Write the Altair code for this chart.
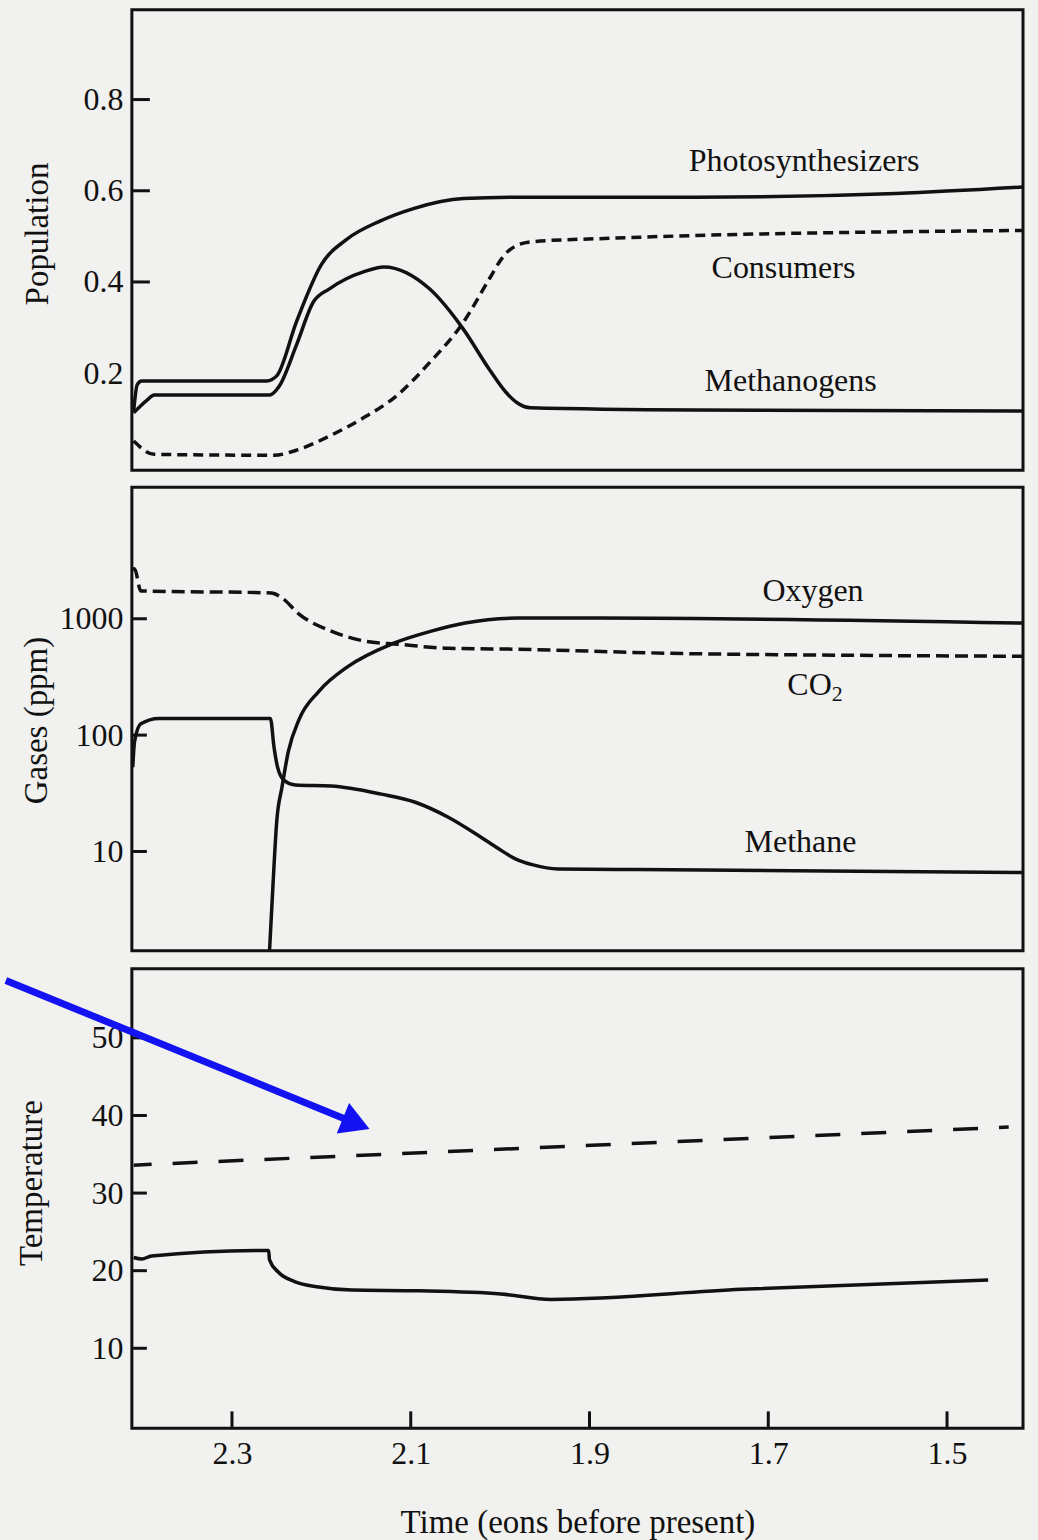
import altair as alt
import pandas as pd

FONT = "Liberation Serif"
INK = "#111111"
BLUE = "#1212f2"
PAPER = "#f1f1ef"

# ---------------- data: population panel ----------------
photo_t = [2.410, 2.406, 2.401, 2.261, 2.250, 2.228, 2.200, 2.172, 2.135, 2.097, 2.041, 1.982, 1.781, 1.557, 1.416]
photo_v = [0.117, 0.175, 0.183, 0.183, 0.194, 0.312, 0.438, 0.493, 0.533, 0.561, 0.583, 0.586, 0.586, 0.594, 0.608]

meth_t = [2.410, 2.395, 2.387, 2.258, 2.247, 2.228, 2.209, 2.191, 2.172, 2.153, 2.130, 2.079, 2.041, 2.012, 1.993, 1.981, 1.966, 1.781, 1.416]
meth_v = [0.113, 0.141, 0.152, 0.152, 0.172, 0.261, 0.356, 0.385, 0.407, 0.422, 0.433, 0.385, 0.296, 0.208, 0.157, 0.135, 0.124, 0.119, 0.117]

cons_t = [2.410, 2.387, 2.253, 2.228, 2.191, 2.153, 2.116, 2.079, 2.041, 2.012, 1.999, 1.989, 1.966, 1.889, 1.416]
cons_v = [0.051, 0.022, 0.020, 0.031, 0.062, 0.102, 0.150, 0.223, 0.312, 0.407, 0.449, 0.471, 0.488, 0.495, 0.513]

pop_labels = ["Photosynthesizers", "Consumers", "Methanogens"]
pop_label_t = [1.660, 1.683, 1.675]
pop_label_v = [0.665, 0.431, 0.183]
pop_tick_labels = [0.2, 0.4, 0.6, 0.8]
pop_tick_marks = [0.4, 0.6, 0.8]

# ---------------- data: gases panel (ppm, log) ----------------
oxy_t = [2.258, 2.254, 2.250, 2.244, 2.237, 2.225, 2.203, 2.170, 2.122, 2.077, 2.039, 1.980, 1.890, 1.414]
oxy_v = [1.40, 5.4, 17.9, 35.9, 72.0, 136, 237, 390, 604, 783, 920, 1014, 1014, 918]

co2_t = [2.412, 2.409, 2.402, 2.256, 2.244, 2.225, 2.189, 2.151, 2.114, 2.058, 1.980, 1.810, 1.618, 1.414]
co2_v = [2650, 2690, 1735, 1667, 1510, 1098, 783, 642, 604, 558, 547, 505, 486, 476]

ch4_t = [2.411, 2.409, 2.402, 2.382, 2.257, 2.253, 2.249, 2.242, 2.229, 2.189, 2.133, 2.095, 2.058, 2.021, 2.002, 1.983, 1.963, 1.935, 1.846, 1.414]
ch4_v = [53, 88, 125, 139, 139, 79, 53, 41, 37.2, 36.5, 31.1, 26.5, 19.7, 13.2, 10.6, 8.65, 7.67, 7.08, 7.00, 6.59]

gas_labels = ["Oxygen", "Methane"]
gas_label_t = [1.650, 1.664]
gas_label_v = [1735, 12.0]
co2_label_t = 1.629          # "CO" ends here, subscript "2" starts here
co2_label_v = 272
gas_ticks = [10, 100, 1000]

# ---------------- data: temperature panel ----------------
temp_t = [2.410, 2.401, 2.390, 2.259, 2.258, 2.248, 2.230, 2.203, 2.166, 2.091, 1.999, 1.943, 1.730, 1.454]
temp_v = [21.7, 21.5, 21.9, 22.6, 21.4, 19.8, 18.6, 17.9, 17.5, 17.4, 17.0, 16.3, 17.6, 18.8]

tdash_t = [2.410, 1.431]
tdash_v = [33.6, 38.5]

temp_ticks = [10, 20, 30, 40, 50]
time_ticks = [2.3, 2.1, 1.9, 1.7, 1.5]

# blue annotation arrow (time, temperature coordinates)
arrow_t, arrow_v, arrow_t2, arrow_v2 = [2.553], [57.4], [2.168], [39.3]
head_t, head_v = [2.161], [38.95]

# ---------------- helpers ----------------
W = 892
H1, H2, H3 = 461, 464, 460


def sdf(t, v):
    return pd.DataFrame({"t": t, "v": v, "i": list(range(len(t)))})


x_scale = alt.Scale(domain=[1.415, 2.412], reverse=True, nice=False, zero=False)
x_none = alt.X("t:Q", scale=x_scale, axis=None)


def y_axis(values, fmt, title, tx, ty):
    return alt.Axis(values=values, format=fmt, ticks=False, domain=False, grid=False,
                    labelFont=FONT, labelFontSize=32, labelColor=INK, labelPadding=9,
                    title=title, titleFont=FONT, titleFontSize=33, titleFontWeight="normal",
                    titleColor=INK, titleAngle=270, titleX=tx, titleY=ty,
                    titleAlign="center", titleBaseline="alphabetic")


def curve(df, x, y, dash=None, offset=None):
    kw = dict(color=INK, strokeWidth=3.5, interpolate="monotone")
    if dash:
        kw["strokeDash"] = dash
    if offset:
        kw["strokeDashOffset"] = offset
    return alt.Chart(df).mark_line(**kw).encode(x=x, y=y, order=alt.Order("i:Q"))


def inner_ticks(vals, y, length):
    return alt.Chart(pd.DataFrame({"v": vals})).mark_rule(color=INK, strokeWidth=3).encode(
        y=y, x=alt.value(0), x2=alt.value(length))


def labels(t, v, txt, x, y, size=32, align="center", dy=0):
    return alt.Chart(pd.DataFrame({"t": t, "v": v, "label": txt})).mark_text(
        font=FONT, fontSize=size, color=INK, align=align, baseline="middle", dy=dy).encode(
        x=x, y=y, text="label:N")


# ---------------- panel 1 ----------------
y1 = alt.Y("v:Q", scale=alt.Scale(domain=[-0.013, 0.997], nice=False, zero=False),
           axis=y_axis(pop_tick_labels, ".1f", "Population", -84, 224))
p1 = alt.layer(
    curve(sdf(photo_t, photo_v), x_none, y1),
    curve(sdf(meth_t, meth_v), x_none, y1),
    curve(sdf(cons_t, cons_v), x_none, y1, dash=[10, 6]),
    inner_ticks(pop_tick_marks, y1, 18),
    labels(pop_label_t, pop_label_v, pop_labels, x_none, y1),
).properties(width=W, height=H1)

# ---------------- panel 2 ----------------
y2 = alt.Y("v:Q", scale=alt.Scale(type="log", domain=[1.40, 13490], nice=False),
           axis=y_axis(gas_ticks, "d", "Gases (ppm)", -85, 233))
p2 = alt.layer(
    curve(sdf(oxy_t, oxy_v), x_none, y2),
    curve(sdf(ch4_t, ch4_v), x_none, y2),
    curve(sdf(co2_t, co2_v), x_none, y2, dash=[13, 6]),
    inner_ticks(gas_ticks, y2, 15),
    labels(gas_label_t, gas_label_v, gas_labels, x_none, y2),
    labels([co2_label_t], [co2_label_v], ["CO"], x_none, y2, align="right"),
    labels([co2_label_t], [co2_label_v], ["2"], x_none, y2, size=22, align="left", dy=9),
).properties(width=W, height=H2)

# ---------------- panel 3 ----------------
x3 = alt.X("t:Q", scale=x_scale,
           axis=alt.Axis(values=time_ticks, format=".1f", ticks=False, domain=False, grid=False,
                         labelFont=FONT, labelFontSize=32, labelColor=INK, labelPadding=10,
                         title="Time (eons before present)", titleFont=FONT, titleFontSize=33,
                         titleFontWeight="normal", titleColor=INK, titlePadding=37))
y3 = alt.Y("v:Q", scale=alt.Scale(domain=[-0.32, 58.9], nice=False, zero=False),
           axis=y_axis(temp_ticks, "d", "Temperature", -90, 214))

xticks = alt.Chart(pd.DataFrame({"t": time_ticks})).mark_rule(color=INK, strokeWidth=3).encode(
    x=x3, y=alt.value(H3), y2=alt.value(H3 - 17))

arrow = alt.Chart(pd.DataFrame({"t": arrow_t, "v": arrow_v, "t2": arrow_t2, "v2": arrow_v2})).mark_rule(
    color=BLUE, strokeWidth=7).encode(x=x3, y=y3, x2="t2:Q", y2="v2:Q")
head = alt.Chart(pd.DataFrame({"t": head_t, "v": head_v})).mark_point(
    shape="triangle-right", filled=True, size=1100, angle=22, color=BLUE, opacity=1).encode(x=x3, y=y3)

p3 = alt.layer(
    curve(sdf(temp_t, temp_v), x3, y3),
    curve(sdf(tdash_t, tdash_v), x3, y3, dash=[25, 21], offset=7),
    inner_ticks(temp_ticks, y3, 15),
    xticks,
    arrow,
    head,
).properties(width=W, height=H3)

top = alt.vconcat(p1, p2, spacing=13)
chart = alt.vconcat(top, p3, spacing=7).properties(
    background=PAPER,
    padding={"left": 0, "top": 7, "right": 5, "bottom": 1},
).configure_view(stroke=INK, strokeWidth=3)

chart.save("out.html", embed_options={"renderer": "svg", "actions": False})
